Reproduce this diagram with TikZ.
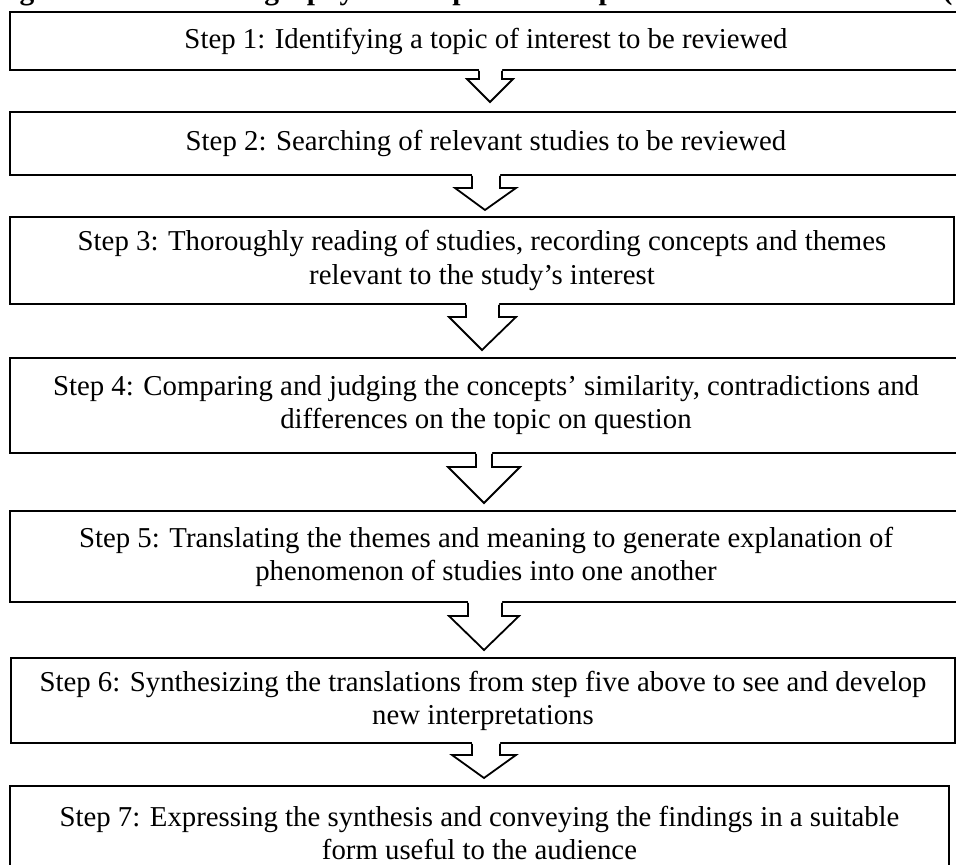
\documentclass[tikz,border=0pt]{standalone}
\usepackage{fontspec}
\setmainfont{Liberation Serif}
\usetikzlibrary{calc}
\def\u{0.41667pt}
\tikzset{
  stepbox/.style={draw, line width=0.75pt, rectangle, inner sep=0pt, align=center,
    font=\fontsize{12}{13.8}\selectfont},
  blk/.style={line width=0.75pt, line join=miter}
}
% #1 upper box, #2 stem left x, #3 stem right x, #4 shoulder left x, #5 shoulder right x,
% #6 shoulder y, #7 tip x, #8 tip y
\newcommand{\blkarrow}[8]{%
  \fill[white] ($(#2,0 |- #1.south)+(0,-3)$) -- (#2,#6) -- (#4,#6) -- (#7,#8) -- (#5,#6) -- (#3,#6) -- ($(#3,0 |- #1.south)+(0,-3)$) -- cycle;
  \draw[blk] (#2,0 |- #1.south) -- (#2,#6) -- (#4,#6) -- (#7,#8) -- (#5,#6) -- (#3,#6) -- (#3,0 |- #1.south);
}
\begin{document}
\begin{tikzpicture}[x=0.41667pt, y=-0.41667pt]
\useasboundingbox (0,0) rectangle (956,865);
\clip (0,0) rectangle (956,865);
\fill[white] (0,0) rectangle (956,865);

\node[anchor=base east, inner sep=0pt, font=\fontsize{12.3}{14}\selectfont\bfseries] (title) at (953,0)
  {Figure 1: Meta-ethnography review process adopted from Noblit and Hare (};

\node[stepbox, minimum width=952*\u, minimum height=58*\u] (b1) at (486,41)
  {Step 1: Identifying a topic of interest to be reviewed};
\node[stepbox, minimum width=952*\u, minimum height=63*\u] (b2) at (486,143.5)
  {Step 2: Searching of relevant studies to be reviewed};
\node[stepbox, minimum width=944*\u, minimum height=87*\u] (b3) at (482,260.5)
  {Step 3: Thoroughly reading of studies, recording concepts and themes\\relevant to the study’s interest};
\node[stepbox, minimum width=952*\u, minimum height=95*\u] (b4) at (486,405.5)
  {Step 4: Comparing and judging the concepts’ similarity, contradictions and\\differences on the topic on question};
\node[stepbox, minimum width=952*\u, minimum height=91*\u] (b5) at (486,556.5)
  {Step 5: Translating the themes and meaning to generate explanation of\\phenomenon of studies into one another};
\node[stepbox, minimum width=944*\u, minimum height=85*\u] (b6) at (483,700.5)
  {Step 6: Synthesizing the translations from step five above to see and develop\\new interpretations};
\node[stepbox, minimum width=939*\u, minimum height=94*\u] (b7) at (479.5,833)
  {Step 7: Expressing the synthesis and conveying the findings in a suitable\\form useful to the audience};

\blkarrow{b1}{479}{502}{467}{513}{79}{490}{102}
\blkarrow{b2}{472}{500}{455}{516}{188}{485}{210}
\blkarrow{b3}{466}{499}{449}{516}{317}{482}{350}
\blkarrow{b4}{476}{492}{448}{520}{467}{484}{503}
\blkarrow{b5}{468}{502}{449}{519}{616}{484}{650}
\blkarrow{b6}{472}{500}{452}{516}{755}{484}{778}
\end{tikzpicture}
\end{document}
